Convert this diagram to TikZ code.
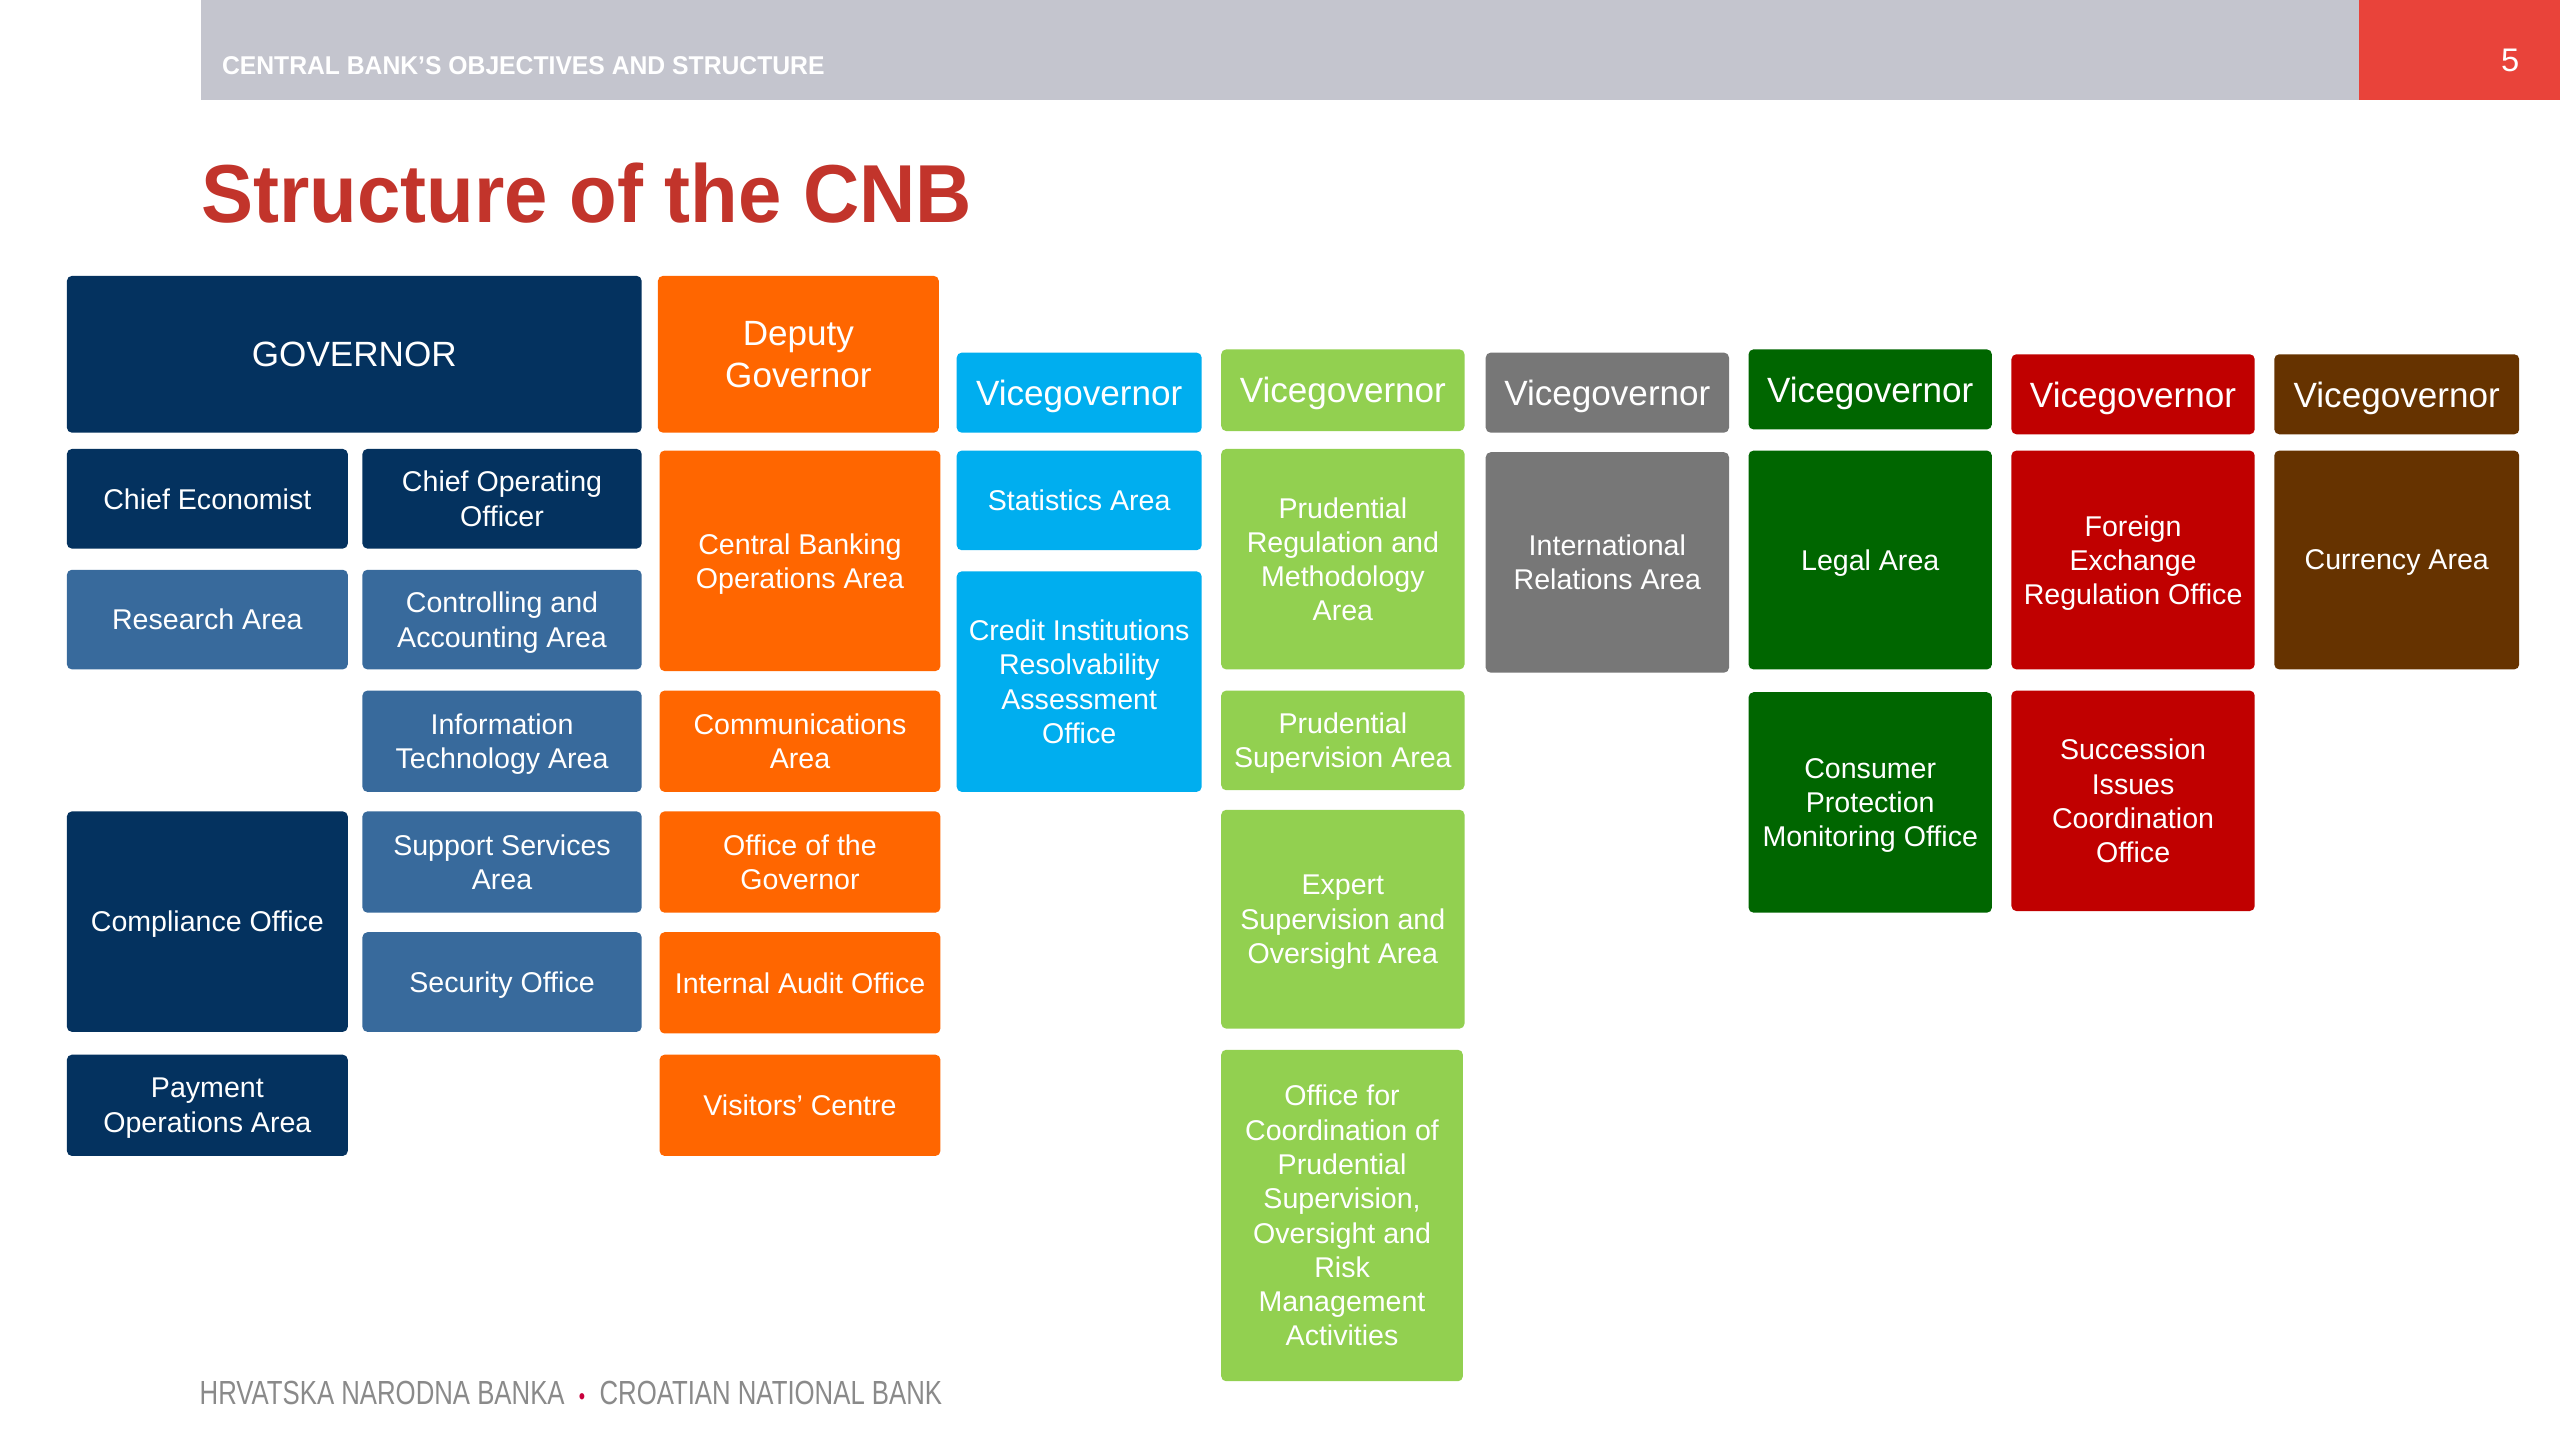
\documentclass[tikz,border=0pt]{standalone}
\usepackage{fontspec}
\setmainfont{Liberation Sans}
\usepackage{graphicx}
\definecolor{navy}{HTML}{04325F}
\definecolor{midblue}{HTML}{386A9C}
\definecolor{orng}{HTML}{FF6600}
\definecolor{cyanb}{HTML}{00AEEF}
\definecolor{lgreen}{HTML}{92D050}
\definecolor{greyb}{HTML}{777777}
\definecolor{dgreen}{HTML}{006600}
\definecolor{redb}{HTML}{C00000}
\definecolor{brownb}{HTML}{663300}
\definecolor{hdrgrey}{HTML}{C4C5CE}
\definecolor{hdrred}{HTML}{E9433A}
\definecolor{titlered}{HTML}{C2342B}
\definecolor{footgrey}{HTML}{8A8A8A}
\definecolor{dotred}{HTML}{C8003C}
\begin{document}
\begin{tikzpicture}[x=1pt,y=-1pt,
  box/.style={rounded corners=3pt, inner sep=0pt, outer sep=0pt, anchor=north west,
    align=center, text=white, font=\fontsize{17.5}{21}\selectfont, text depth=0pt},
  vgbox/.style={box, font=\fontsize{21.5}{26}\selectfont},
  plain/.style={inner sep=0pt, outer sep=0pt}]
\useasboundingbox[fill=white] (0,0) rectangle (1568,882);
% header
\fill[hdrgrey] (123,0) rectangle (1445,61);
\fill[hdrred] (1445,0) rectangle (1568,61);
\node[plain, anchor=south west, text=white] (hdr) at (136,46)
  {\resizebox{369pt}{11pt}{\bfseries CENTRAL BANK'S OBJECTIVES AND STRUCTURE}};
\node[plain, anchor=base, text=white, font=\fontsize{20}{24}\selectfont] (pg) at (1537.5,44) {5};
% title
\node[plain, anchor=south west, text=titlered] (title) at (123.4,136.5)
  {\resizebox{472pt}{36.5pt}{\bfseries Structure of the CNB}};
% footer
\node[plain, anchor=south west, text=footgrey] (foot) at (122.3,860.5)
  {\resizebox{454.7pt}{14.3pt}{HRVATSKA NARODNA BANKA\ \ \textcolor{dotred}{\scalebox{0.7}{•}}\ \ CROATIAN NATIONAL BANK}};
% Governor column
\node[vgbox, fill=navy, minimum width=352pt, minimum height=96pt] (gov) at (41,169) {GOVERNOR};
\node[box, fill=navy, minimum width=172pt, minimum height=61pt] (ce) at (41,275) {Chief Economist};
\node[box, fill=navy, minimum width=171pt, minimum height=61pt] (coo) at (222,275) {Chief Operating\\Officer};
\node[box, fill=midblue, minimum width=172pt, minimum height=61pt] (ra) at (41,349) {Research Area};
\node[box, fill=midblue, minimum width=171pt, minimum height=61pt] (caa) at (222,349) {Controlling and\\Accounting Area};
\node[box, fill=midblue, minimum width=171pt, minimum height=62pt] (ita) at (222,423) {Information\\Technology Area};
\node[box, fill=navy, minimum width=172pt, minimum height=135pt] (co) at (41,497) {Compliance Office};
\node[box, fill=midblue, minimum width=171pt, minimum height=62pt] (ssa) at (222,497) {Support Services\\Area};
\node[box, fill=midblue, minimum width=171pt, minimum height=61pt] (so) at (222,571) {Security Office};
\node[box, fill=navy, minimum width=172pt, minimum height=62pt] (poa) at (41,646) {Payment\\Operations Area};
% Deputy governor column
\node[vgbox, fill=orng, minimum width=172pt, minimum height=96pt] (dg) at (403,169) {Deputy\\Governor};
\node[box, fill=orng, minimum width=172pt, minimum height=135pt] (cbo) at (404,276) {Central Banking\\Operations Area};
\node[box, fill=orng, minimum width=172pt, minimum height=62pt] (comm) at (404,423) {Communications\\Area};
\node[box, fill=orng, minimum width=172pt, minimum height=62pt] (og) at (404,497) {Office of the\\Governor};
\node[box, fill=orng, minimum width=172pt, minimum height=62pt] (ia) at (404,571) {Internal Audit Office};
\node[box, fill=orng, minimum width=172pt, minimum height=62pt] (vc) at (404,646) {Visitors’ Centre};
% cyan
\node[vgbox, fill=cyanb, minimum width=150pt, minimum height=49pt] (vg1) at (586,216) {Vicegovernor};
\node[box, fill=cyanb, minimum width=150pt, minimum height=61pt] (sa) at (586,276) {Statistics Area};
\node[box, fill=cyanb, minimum width=150pt, minimum height=135pt] (ci) at (586,350) {Credit Institutions\\Resolvability\\Assessment\\Office};
% light green
\node[vgbox, fill=lgreen, minimum width=149pt, minimum height=50pt] (vg2) at (748,214) {Vicegovernor};
\node[box, fill=lgreen, minimum width=149pt, minimum height=135pt] (pr) at (748,275) {Prudential\\Regulation and\\Methodology\\Area};
\node[box, fill=lgreen, minimum width=149pt, minimum height=61pt] (ps) at (748,423) {Prudential\\Supervision Area};
\node[box, fill=lgreen, minimum width=149pt, minimum height=134pt] (es) at (748,496) {Expert\\Supervision and\\Oversight Area};
\node[box, fill=lgreen, minimum width=148pt, minimum height=203pt] (oc) at (748,643) {Office for\\Coordination of\\Prudential\\Supervision,\\Oversight and\\Risk\\Management\\Activities};
% grey
\node[vgbox, fill=greyb, minimum width=149pt, minimum height=49pt] (vg3) at (910,216) {Vicegovernor};
\node[box, fill=greyb, minimum width=149pt, minimum height=135pt] (ir) at (910,277) {International\\Relations Area};
% dark green
\node[vgbox, fill=dgreen, minimum width=149pt, minimum height=49pt] (vg4) at (1071,214) {Vicegovernor};
\node[box, fill=dgreen, minimum width=149pt, minimum height=134pt] (la) at (1071,276) {Legal Area};
\node[box, fill=dgreen, minimum width=149pt, minimum height=135pt] (cp) at (1071,424) {Consumer\\Protection\\Monitoring Office};
% red
\node[vgbox, fill=redb, minimum width=149pt, minimum height=49pt] (vg5) at (1232,217) {Vicegovernor};
\node[box, fill=redb, minimum width=149pt, minimum height=134pt] (fx) at (1232,276) {Foreign\\Exchange\\Regulation Office};
\node[box, fill=redb, minimum width=149pt, minimum height=135pt] (si) at (1232,423) {Succession\\Issues\\Coordination\\Office};
% brown
\node[vgbox, fill=brownb, minimum width=150pt, minimum height=49pt] (vg6) at (1393,217) {Vicegovernor};
\node[box, fill=brownb, minimum width=150pt, minimum height=134pt] (ca) at (1393,276) {Currency Area};
\end{tikzpicture}
\end{document}
